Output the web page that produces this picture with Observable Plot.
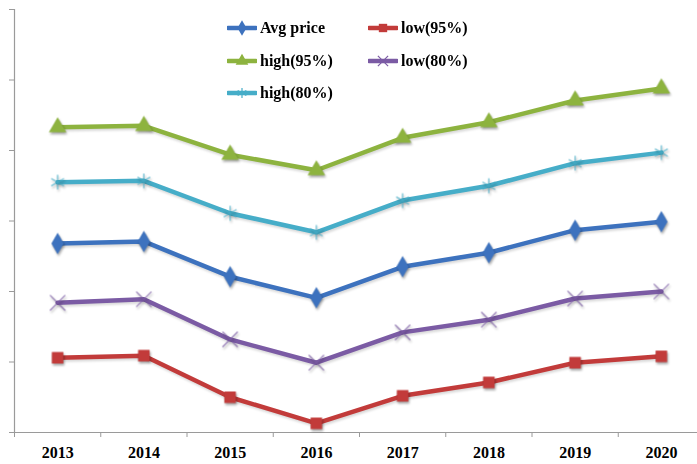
<!DOCTYPE html>
<html>
<head>
<meta charset="utf-8">
<script src="https://cdn.jsdelivr.net/npm/d3@7"></script>
<script src="https://cdn.jsdelivr.net/npm/@observablehq/plot@0.6"></script>
<style>
  html, body { margin: 0; padding: 0; background: #fff; overflow: hidden; }
  #wrap { position: relative; width: 697px; height: 464px; }
  #legend { position: absolute; left: 227px; top: 12px; display: grid;
    grid-template-columns: 141px 140px; grid-auto-rows: 32.5px;
    font-family: "Liberation Serif", "Times New Roman", serif; font-weight: bold; font-size: 16px; color: #000; }
  #legend .item { display: flex; align-items: center; gap: 3px; }
  svg g[aria-label="dot"] { filter: drop-shadow(1px 2px 1px rgba(0,0,0,0.35)); }
  svg g[aria-label="line"] { filter: drop-shadow(1px 2px 1px rgba(0,0,0,0.15)); }
</style>
</head>
<body>
<div id="wrap"><div id="chart"></div><div id="legend"></div></div>
<script>
const years = [2013, 2014, 2015, 2016, 2017, 2018, 2019, 2020];
const seriesNames = ["Avg price", "low(95%)", "high(95%)", "low(80%)", "high(80%)"];
const avgPrice = [26.8, 27.1, 22.1, 19.1, 23.5, 25.5, 28.7, 29.9];
const low95   = [10.6, 10.9, 5.0, 1.3, 5.2, 7.1, 9.9, 10.8];
const high95  = [43.3, 43.5, 39.4, 37.2, 41.8, 44.0, 47.1, 48.8];
const low80   = [18.4, 18.9, 13.2, 9.9, 14.2, 16.0, 19.0, 20.0];
const high80  = [35.5, 35.7, 31.1, 28.4, 32.9, 35.0, 38.2, 39.7];
const yTicks = [0, 10, 20, 30, 40, 50, 60];

const colors = ["#3D72BE", "#C23B3A", "#8DB33F", "#7B5BA4", "#46ADC8"];
const symbols = ["diamond", "square", "triangle", "times", "asterisk"];
const valuesBySeries = [avgPrice, low95, high95, low80, high80];

const data = [];
seriesNames.forEach((s, i) => years.forEach((yr, j) => data.push({series: s, year: yr, value: valuesBySeries[i][j]})));
const boundaries = years.map(y => y - 0.5).concat([years[years.length - 1] + 0.5]);

const fillSeries = ["Avg price", "low(95%)", "high(95%)"];
const strokeSeries = ["low(80%)", "high(80%)"];

const chart = Plot.plot({
  width: 697,
  height: 464,
  marginLeft: 14,
  marginRight: 0,
  marginTop: 9,
  marginBottom: 32,
  x: {domain: [years[0] - 0.5, years[years.length - 1] + 0.5], range: [14, 704]},
  y: {domain: [0, 60]},
  color: {domain: seriesNames, range: colors},
  symbol: {domain: seriesNames, range: symbols},
  style: {fontFamily: "'Liberation Serif', 'Times New Roman', serif", background: "#fff"},
  marks: [
    Plot.axisY({ticks: yTicks, tickSize: 5, tickFormat: () => "", stroke: "#9a9a9a", label: null}),
    Plot.axisX({ticks: boundaries, tickSize: 5, tickFormat: () => "", stroke: "#9a9a9a", label: null}),
    Plot.axisX({ticks: years, tickSize: 0, tickPadding: 14, tickFormat: d => String(d), label: null,
      fontSize: 16, fontWeight: "bold", fill: "#000"}),
    Plot.ruleX([years[0] - 0.5], {stroke: "#9a9a9a", strokeWidth: 1.2}),
    Plot.ruleY([0], {stroke: "#9a9a9a", strokeWidth: 1.2}),
    Plot.line(data, {x: "year", y: "value", z: "series", stroke: "series", strokeWidth: 4.5, strokeLinejoin: "round"}),
    Plot.dot(data.filter(d => fillSeries.includes(d.series)), {x: "year", y: "value", fill: "series", symbol: "series", r: 6.5}),
    Plot.dot(data.filter(d => strokeSeries.includes(d.series)), {x: "year", y: "value", stroke: "series", symbol: "series", r: 7, strokeWidth: 1.3, strokeOpacity: 0.75})
  ]
});
document.getElementById("chart").append(chart);

// legend
const order = ["Avg price", "low(95%)", "high(95%)", "low(80%)", "high(80%)"];
const legend = d3.select("#legend");
order.forEach(name => {
  const i = seriesNames.indexOf(name);
  const item = legend.append("div").attr("class", "item");
  const sw = item.append("svg").attr("width", 30).attr("height", 16);
  sw.append("line").attr("x1", 1).attr("x2", 29).attr("y1", 8).attr("y2", 8)
    .attr("stroke", colors[i]).attr("stroke-width", 4.5).attr("stroke-linecap", "round");
  const sym = d3.symbol().type({
    diamond: d3.symbolDiamond, square: d3.symbolSquare, triangle: d3.symbolTriangle,
    times: d3.symbolTimes, asterisk: d3.symbolAsterisk
  }[symbols[i]]).size(70)();
  const isStroke = strokeSeries.includes(name);
  sw.append("path").attr("d", sym).attr("transform", "translate(15,8)")
    .attr("fill", isStroke ? "none" : colors[i]).attr("stroke", isStroke ? colors[i] : "none").attr("stroke-width", 1.2);
  item.append("span").text(name);
});
</script>
</body>
</html>
